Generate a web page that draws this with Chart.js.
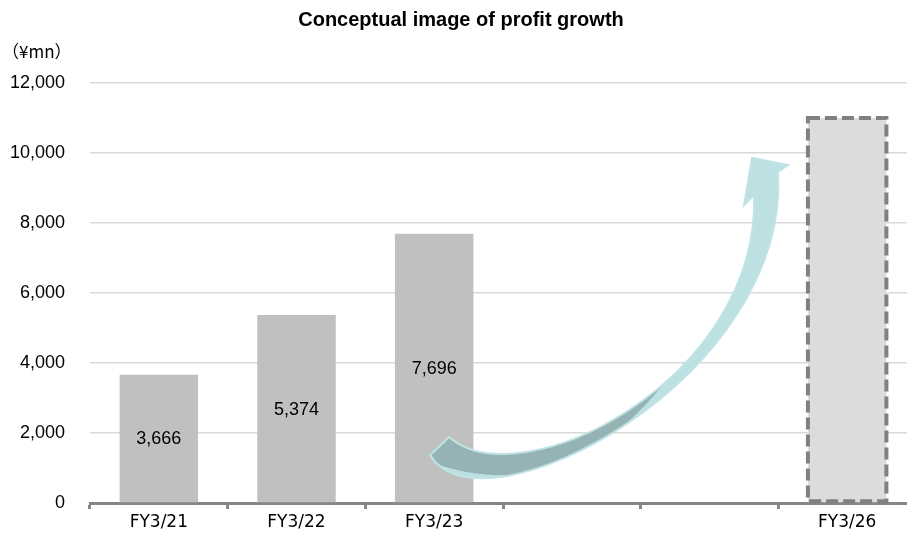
<!DOCTYPE html>
<html>
<head>
<meta charset="utf-8">
<script src="https://cdn.jsdelivr.net/npm/chart.js@4"></script>
<style>
  html, body { margin: 0; padding: 0; background: #fff; overflow: hidden; }
  #wrap { position: absolute; left: 0; top: 0; width: 920px; height: 539px; }
</style>
</head>
<body>
<div id="wrap"><canvas id="profitChart" width="920" height="539"></canvas></div>
<script>
const categories = ['FY3/21', 'FY3/22', 'FY3/23', '', '', 'FY3/26'];
const profit = [3666, 5374, 7696, null, null, 11000];
const isTarget = [false, false, false, false, false, true];
const yTicks = [0, 2000, 4000, 6000, 8000, 10000, 12000];

// growth arrow, bezier control points in (category index, value) units
const arrowOuter = [[1.971, 1371], [2.334, -1057], [4.585, 3514], [4.498, 9457]];
const arrowHead = [[4.571, 9657], [4.309, 9857], [4.251, 8514]];
const arrowInner = [[4.324, 8800], [4.367, 3514], [2.625, 86], [2.109, 1886]];
const arrowShade = [[1.935, 1229], [2.625, 150], [3.206, 1150], [3.660, 3371], [1.898, 5800]];

const fmt = v => v.toLocaleString('en-US');

const decorPlugin = {
    id: 'decor',
    afterDatasetsDraw(chart) {
        const { ctx, scales: { x, y } } = chart;
        const map = arr => arr.map(p => [x.getPixelForValue(p[0]), y.getPixelForValue(p[1])]);
        const meta = chart.getDatasetMeta(0);

        // value labels inside the actual bars
        ctx.save();
        ctx.font = '18px "Liberation Sans", Arial, sans-serif';
        ctx.fillStyle = '#000';
        ctx.textAlign = 'center';
        ctx.textBaseline = 'middle';
        meta.data.forEach((bar, i) => {
            if (profit[i] == null || isTarget[i]) return;
            ctx.fillText(fmt(profit[i]), bar.x, (bar.y + bar.base) / 2 + 1);
        });

        // dashed outline for the target bar
        meta.data.forEach((bar, i) => {
            if (!isTarget[i]) return;
            const half = bar.width / 2;
            ctx.setLineDash([12, 5]);
            ctx.lineWidth = 4;
            ctx.strokeStyle = '#808080';
            ctx.strokeRect(bar.x - half, bar.y, bar.width, bar.base - bar.y - 1);
        });
        ctx.setLineDash([]);

        // curved arrow
        const o = map(arrowOuter), h = map(arrowHead), n = map(arrowInner), s = map(arrowShade);
        const arrowPath = () => {
            ctx.beginPath();
            ctx.moveTo(o[0][0], o[0][1]);
            ctx.bezierCurveTo(o[1][0], o[1][1], o[2][0], o[2][1], o[3][0], o[3][1]);
            h.forEach(p => ctx.lineTo(p[0], p[1]));
            ctx.lineTo(n[0][0], n[0][1]);
            ctx.bezierCurveTo(n[1][0], n[1][1], n[2][0], n[2][1], n[3][0], n[3][1]);
            ctx.closePath();
        };
        arrowPath();
        ctx.fillStyle = '#bde0e3';
        ctx.fill();
        ctx.save();
        ctx.clip();
        ctx.beginPath();
        ctx.moveTo(s[0][0], s[0][1]);
        ctx.bezierCurveTo(s[1][0], s[1][1], s[2][0], s[2][1], s[3][0], s[3][1]);
        ctx.lineTo(s[4][0], s[4][1]);
        ctx.closePath();
        ctx.fillStyle = '#95b3b5';
        ctx.fill();
        ctx.restore();
        arrowPath();
        ctx.lineWidth = 2;
        ctx.strokeStyle = '#c0e3e6';
        ctx.stroke();
        ctx.restore();

        // title and unit
        ctx.save();
        ctx.fillStyle = '#000';
        ctx.textBaseline = 'middle';
        ctx.textAlign = 'center';
        ctx.font = 'bold 20px "Liberation Sans", Arial, sans-serif';
        ctx.fillText('Conceptual image of profit growth', 461, 20);
        ctx.textAlign = 'left';
        ctx.font = '17px "Noto Sans CJK JP", sans-serif';
        ctx.fillText('（¥mn）', 2, 52);
        ctx.restore();
    }
};

new Chart(document.getElementById('profitChart'), {
    type: 'bar',
    data: {
        labels: categories,
        datasets: [{
            data: profit,
            backgroundColor: profit.map((_, i) => isTarget[i] ? '#dcdcdc' : '#c0c0c0'),
            borderWidth: 0,
            barPercentage: 0.57,
            categoryPercentage: 1.0
        }]
    },
    options: {
        responsive: false,
        animation: false,
        layout: { padding: { left: 10, top: 83, right: 4, bottom: 0 } },
        plugins: { legend: { display: false }, tooltip: { enabled: false } },
        scales: {
            x: {
                border: { display: true, color: '#868686', width: 3 },
                grid: { display: true, drawOnChartArea: false, drawTicks: true, tickLength: 6, tickWidth: 3, tickColor: '#868686' },
                ticks: { color: '#000', padding: 3, font: { size: 17, family: '"DejaVu Sans", sans-serif' } },
                afterFit(scale) { scale.height = 36; }
            },
            y: {
                min: 0,
                max: 12000,
                afterBuildTicks(scale) { scale.ticks = yTicks.map(v => ({ value: v })); },
                border: { display: false },
                grid: { color: '#d9d9d9', lineWidth: 1.5, drawTicks: false },
                ticks: { color: '#000', padding: 25, font: { size: 18, family: '"Liberation Sans", Arial, sans-serif' }, callback: v => fmt(v) },
                afterFit(scale) { scale.width = 80; }
            }
        }
    },
    plugins: [decorPlugin]
});
</script>
</body>
</html>
